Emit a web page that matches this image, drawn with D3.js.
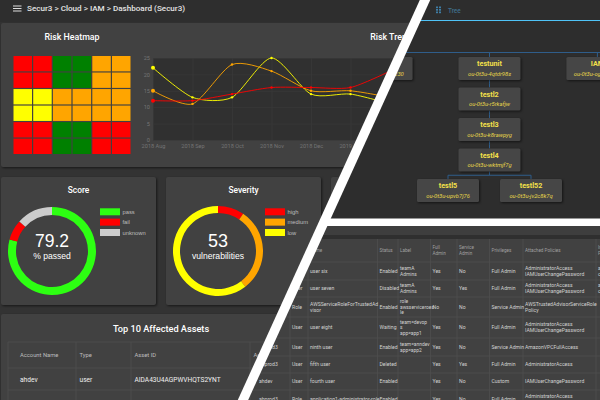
<!DOCTYPE html>
<html>
<head>
<meta charset="utf-8">
<script src="https://cdn.jsdelivr.net/npm/d3@7"></script>
<style>
  html, body { margin: 0; padding: 0; background: #333; overflow: hidden; }
  svg { display: block; font-family: Roboto, sans-serif; }
  .card-shadow { filter: drop-shadow(1px 1px 1px rgba(0, 0, 0, .55)); }
</style>
</head>
<body>
<script>
// heatmap
const heatRows = [0, 1, 2, 3, 4, 5];
const heatCols = [0, 1, 2, 3, 4, 5];
const heatLevels = [
  ['high', 'high', 'ok', 'ok', 'medium', 'medium'],
  ['high', 'high', 'ok', 'ok', 'medium', 'medium'],
  ['low', 'low', 'medium', 'medium', 'medium', 'medium'],
  ['low', 'low', 'medium', 'medium', 'medium', 'medium'],
  ['high', 'high', 'ok', 'ok', 'high', 'high'],
  ['high', 'high', 'ok', 'ok', 'high', 'high']
];

// trend
const trendMonths = ['2018 Aug', '2018 Sep', '2018 Oct', '2018 Nov', '2018 Dec', '2019 Jan', '2019 Feb'];
const trendLow = [22, 13, 13, 25, 14, 14, 11];
const trendMedium = [15, 11, 23, 21, 15, 15, 13];
const trendHigh = [12, 12, 14, 16, 16, 16, 21];
const trendTicks = [0, 5, 10, 15, 20, 25];

// donuts
const scoreLabels = ['pass', 'fail', 'unknown'];
const scoreValues = [79.2, 7.5, 13.3];
const severityLabels = ['high', 'medium', 'low'];
const severityValues = [5, 16, 32];

// top 10 assets
const assetColumns = ['Account Name', 'Type', 'Asset ID', 'Account'];
const assetRows = [
  ['ahdev', 'user', 'AIDA43U4AGPWVHQTS2YNT'],
  ['ahdev', 'user', 'AIDA43U4AGPWVHQTS2YNT']
];

// organisation tree
const ouNames = ['root', 'testou', 'testunit', 'IAM', 'testl2', 'testl3', 'testl4', 'testl5', 'testl52'];
const ouParents = [null, 'root', 'root', 'root', 'testunit', 'testl2', 'testl3', 'testl4', 'testl4'];
const ouIds = ['', 'ou-0t3u-x7fgh230', 'ou-0t3u-4qtdr98s', 'ou-0t3u-og7ka2m1', 'ou-0t3u-r5rkafjw', 'ou-0t3u-k8rawpyg', 'ou-0t3u-wktmjf7g', 'ou-0t3u-upvb7j76', 'ou-0t3u-jv2c8k7q'];

// identities table
const identityColumns = ['Account', 'Type', 'Name', 'Status', 'Label', 'Full\nAdmin', 'Service\nAdmin', 'Privileges', 'Attached Policies', 'Inline\nPolicies'];
const identityRows = [
  ['ahprod3', 'User', 'user six', 'Enabled', 'teamA\nAdmins', 'Yes', 'No', 'Full Admin', 'AdministratorAccess\nIAMUserChangePassword', 'admin\ncustom'],
  ['ahprod3', 'User', 'user seven', 'Disabled', 'teamA\nAdmins', 'Yes', 'Yes', 'Full Admin', 'AdministratorAccess\nIAMUserChangePassword', 'admin\ncustom'],
  ['ahprod3', 'Role', 'AWSServiceRoleForTrustedAd\nvisor', 'Enabled', 'role\nawsserviceroes\nle', 'No', 'No', 'Service Admin', 'AWSTrustedAdvisorServiceRole\nPolicy', ''],
  ['ahprod3', 'User', 'user eight', 'Waiting', 'team=devop\ns\napp=app1', 'Yes', 'No', 'Full Admin', 'AdministratorAccess\nIAMUserChangePassword', ''],
  ['ahprod3', 'User', 'ninth user', 'Enabled', 'team=anndev\napp=app2', 'Yes', 'No', 'Service Admin', 'AmazonVPCFullAccess', ''],
  ['ahprod3', 'User', 'fifth user', 'Deleted', '', 'Yes', 'Yes', 'Full Admin', 'AdministratorAccess', ''],
  ['ahdev', 'User', 'fourth user', 'Enabled', '', 'Yes', 'No', 'Custom', 'IAMUserChangePassword', ''],
  ['ahprod3', 'Role', 'application1-administrator-role', 'Enabled', '', 'Yes', 'No', 'Full Admin', 'AdministratorAccess\nIAMUserChangePassword', '']
];

const width = 600, height = 400;
const seam = y => 425 - 0.455 * y;
const colors = { high: '#ff0000', medium: '#ffa500', low: '#ffff00', ok: '#008000', pass: '#2dff12', fail: '#ff0000', unknown: '#cccccc' };
const sansFont = '"Liberation Sans", sans-serif';

const svg = d3.select('body').append('svg').attr('width', width).attr('height', height);
const defs = svg.append('defs');

function clip(id, points) {
  defs.append('clipPath').attr('id', id).append('polygon').attr('points', points.join(' '));
  return svg.append('g').attr('clip-path', `url(#${id})`);
}

const left = clip('left-clip', [[0, 0], [seam(0), 0], [seam(400), 400], [0, 400]]);
const topRight = clip('top-clip', [[seam(0), 0], [600, 0], [600, 222], [seam(222), 222]]);
const bottomRight = clip('bottom-clip', [[seam(222), 222], [600, 222], [600, 400], [seam(400), 400]]);

function card(g, x, y, w, h) {
  g.append('rect').attr('class', 'card-shadow')
    .attr('x', x).attr('y', y).attr('width', w).attr('height', h).attr('rx', 2)
    .attr('fill', '#414141');
}

function label(g, x, y, str, size, fill, weight, anchor) {
  return g.append('text').attr('x', x).attr('y', y).text(str)
    .attr('font-size', size).attr('fill', fill)
    .attr('font-weight', weight || 400).attr('text-anchor', anchor || 'start');
}

/* ---- left panel ---- */
left.append('rect').attr('width', width).attr('height', height).attr('fill', '#333');
left.append('rect').attr('width', width).attr('height', 22).attr('fill', '#2e2e2e');
[5.5, 8, 10.5].forEach(y => left.append('rect').attr('x', 13).attr('y', y).attr('width', 8.5).attr('height', 1).attr('fill', '#ddd'));
label(left, 27, 10.5, 'Secur3 > Cloud > IAM > Dashboard (Secur3)', 8.1, '#e4e4e4', 500);

card(left, 1, 23, 500, 144);
label(left, 72, 40, 'Risk Heatmap', 8.8, '#fff', 500, 'middle');
label(left, 391, 40, 'Risk Trend', 8.8, '#fff', 500, 'middle');

const heatX = d3.scaleBand().domain(heatCols).range([13.5, 130.5]).paddingInner(0.06);
const heatY = d3.scaleBand().domain(heatRows).range([56, 154]).paddingInner(0.07);
heatRows.forEach(r => {
  left.selectAll(null).data(heatCols).enter().append('rect')
    .attr('x', c => heatX(c)).attr('y', heatY(r))
    .attr('width', heatX.bandwidth()).attr('height', heatY.bandwidth())
    .attr('fill', c => colors[heatLevels[r][c]]);
});

const trendX = d3.scalePoint().domain(trendMonths).range([153, 390]);
const trendY = d3.scaleLinear().domain([0, 25]).range([140, 58]);
left.append('rect').attr('x', 153).attr('y', 58).attr('width', 300).attr('height', 82).attr('fill', '#303030');

const xAxis = left.append('g').attr('transform', 'translate(0,140)')
  .call(d3.axisBottom(trendX).tickSize(-82).tickPadding(4));
const yAxis = left.append('g').attr('transform', 'translate(153,0)')
  .call(d3.axisLeft(trendY).tickValues(trendTicks).tickSize(-300).tickPadding(3));
[xAxis, yAxis].forEach(a => {
  a.select('.domain').remove();
  a.selectAll('line').attr('stroke', '#3a3a3a').attr('stroke-width', 0.7);
  a.selectAll('text').attr('fill', '#747474').attr('font-size', 5.6).attr('font-family', 'Roboto, sans-serif');
});

const trendLine = d3.line()
  .x((d, i) => trendX(trendMonths[i]))
  .y(d => trendY(d))
  .curve(d3.curveCardinal.tension(0.25));

[[trendLow, colors.low], [trendMedium, colors.medium], [trendHigh, colors.high]].forEach(([values, color]) => {
  left.append('path').attr('d', trendLine(values))
    .attr('fill', 'none').attr('stroke', color).attr('stroke-width', 0.9);
  left.selectAll(null).data(values).enter().append('circle')
    .attr('cx', (d, i) => trendX(trendMonths[i])).attr('cy', d => trendY(d))
    .attr('r', (d, i) => i === 0 ? 2 : 1.2).attr('fill', color);
});

function donut(cx, cardX, title, labels, values, bigText, bigSize, smallText, outer, inner) {
  card(left, cardX, 177, 155, 128);
  label(left, cardX + 77.5, 193, title, 8.4, '#fff', 500, 'middle');
  const pie = d3.pie().sort(null)(values);
  const arc = d3.arc().innerRadius(inner).outerRadius(outer);
  left.append('g').attr('transform', `translate(${cx},251)`)
    .selectAll('path').data(pie).enter().append('path')
    .attr('d', arc).attr('fill', (d, i) => colors[labels[i]]);
  label(left, cx, 247, bigText, bigSize, '#fff', 400, 'middle').attr('font-family', sansFont);
  label(left, cx, 258.8, smallText, 8.6, '#fff', 400, 'middle').attr('font-family', sansFont);
  const legendY = d3.scalePoint().domain(labels).range([208.3, 229]);
  labels.forEach(l => {
    left.append('rect').attr('x', cardX + 99).attr('y', legendY(l))
      .attr('width', 20).attr('height', 7).attr('fill', colors[l]);
    label(left, cardX + 121.5, legendY(l) + 5.5, l, 5.8, '#bdbdbd').attr('font-family', sansFont);
  });
}
donut(52, 1, 'Score', scoreLabels, scoreValues, '79.2', 17.5, '% passed', 44, 36);
donut(218, 166, 'Severity', severityLabels, severityValues, '53', 18, 'vulnerabilities', 45, 38);
card(left, 331, 177, 155, 128);

card(left, 1, 314, 500, 90);
label(left, 161, 332, 'Top 10 Affected Assets', 9.2, '#fff', 500, 'middle');
const assetEdges = [8, 76, 131, 250];
const assetRowTops = [342, 368, 390];
assetEdges.forEach(x => left.append('line').attr('x1', x).attr('x2', x).attr('y1', 342).attr('y2', 400).attr('stroke', '#505050').attr('stroke-width', 0.7));
assetRowTops.forEach(y => left.append('line').attr('x1', 8).attr('x2', 300).attr('y1', y).attr('y2', y).attr('stroke', '#505050').attr('stroke-width', 0.7));
assetColumns.forEach((c, i) => label(left, assetEdges[i] + (i === 0 ? 12 : 3.5), 357, c, 5.8, '#bdbdbd'));
assetRows.forEach((row, r) => row.forEach((v, i) => {
  label(left, assetEdges[i] + (i === 0 ? 12 : 3.5), 382 + r * 24, v, 6.6, '#f0f0f0');
}));

/* ---- tree panel ---- */
topRight.append('rect').attr('width', width).attr('height', 222).attr('fill', '#2d2d2d');
topRight.append('line').attr('x1', 380).attr('x2', 600).attr('y1', 20.5).attr('y2', 20.5).attr('stroke', '#4fc3f7').attr('stroke-width', 1);
d3.range(6).forEach(i => topRight.append('rect')
  .attr('x', 436 + (i % 2) * 3).attr('y', 6.5 + Math.floor(i / 2) * 2.5)
  .attr('width', 2).attr('height', 1.7).attr('fill', '#3f7ea6'));
label(topRight, 448, 12.5, 'Tree', 6.4, '#3f6f8c', 500);

const ouTable = ouNames.map((name, i) => ({ name, parent: ouParents[i], ouId: ouIds[i] }));
const root = d3.stratify().id(d => d.name).parentId(d => d.parent)(ouTable);
d3.tree().nodeSize([83, 1]).separation(a => a.depth === 1 ? 1.3 : 1)(root);
const testunit = root.find(d => d.data.name === 'testunit');
const treeX = d3.scaleLinear().domain([testunit.x, testunit.x + 83]).range([489.5, 572.5]);
const treeY = d3.scaleLinear().domain([1, 5]).range([68.5, 190.5]);
const nodeW = 62, nodeH = 23;
const linkColor = '#2f5d8a';

function treeLine(x1, y1, x2, y2) {
  topRight.append('line').attr('x1', x1).attr('x2', x2).attr('y1', y1).attr('y2', y2)
    .attr('stroke', linkColor).attr('stroke-width', 1);
}
treeLine(380, 52.5, 600, 52.5);
root.descendants().filter(d => d.depth > 0).forEach(d => {
  const top = treeY(d.depth) - nodeH / 2;
  if (d.depth === 1) {
    treeLine(treeX(d.x), 52.5, treeX(d.x), top);
  } else {
    const bottom = treeY(d.parent.depth) + nodeH / 2;
    const mid = (bottom + top) / 2;
    treeLine(treeX(d.parent.x), bottom, treeX(d.parent.x), mid);
    treeLine(treeX(d.parent.x), mid, treeX(d.x), mid);
    treeLine(treeX(d.x), mid, treeX(d.x), top);
  }
});
const ouNodes = topRight.selectAll('g.ou').data(root.descendants().filter(d => d.depth > 0)).enter()
  .append('g').attr('class', 'ou')
  .attr('transform', d => `translate(${treeX(d.x)},${treeY(d.depth)})`);
ouNodes.append('rect').attr('class', 'card-shadow')
  .attr('x', -nodeW / 2).attr('y', -nodeH / 2).attr('width', nodeW).attr('height', nodeH).attr('rx', 1.5)
  .attr('fill', '#464646');
ouNodes.append('text').attr('y', -2.5).attr('text-anchor', 'middle')
  .attr('font-size', 7.2).attr('font-weight', 700).attr('fill', '#f3e04a').text(d => d.data.name);
ouNodes.append('text').attr('y', 7).attr('text-anchor', 'middle')
  .attr('font-size', 5.8).attr('font-style', 'italic').attr('fill', '#e6d64a').text(d => d.data.ouId);

/* ---- table panel ---- */
bottomRight.append('rect').attr('y', 222).attr('width', width).attr('height', 178).attr('fill', '#2f2f2f');
bottomRight.append('rect').attr('y', 226).attr('width', width).attr('height', 9).attr('fill', '#3e3e3e');
bottomRight.append('rect').attr('y', 239).attr('width', width).attr('height', 161).attr('fill', '#414141');

const identityEdges = [250, 290, 308, 377.5, 398, 430.5, 457, 489.5, 523, 596, 640];
const identityLines = [239, 262, 280, 297, 317, 338, 356, 373, 390, 408];
identityEdges.forEach(x => bottomRight.append('line').attr('x1', x).attr('x2', x).attr('y1', 239).attr('y2', 400).attr('stroke', '#505050').attr('stroke-width', 0.7));
identityLines.slice(1).forEach(y => bottomRight.append('line').attr('x1', 230).attr('x2', 600).attr('y1', y).attr('y2', y).attr('stroke', '#505050').attr('stroke-width', 0.7));

function cell(x, yMid, str, size, fill, lineGap) {
  const lines = str.split('\n');
  lines.forEach((l, i) => {
    label(bottomRight, x, yMid + (i - (lines.length - 1) / 2) * lineGap + size * 0.35, l, size, fill);
  });
}
const colText = (i) => identityEdges[i] + (i === 0 ? 9 : 2);
identityColumns.forEach((c, i) => cell(colText(i), 250.5, c, 4.6, '#a0a0a0', 5.4));
identityRows.forEach((row, r) => {
  const mid = (identityLines[r + 1] + identityLines[r + 2]) / 2;
  row.forEach((v, i) => cell(colText(i), mid, v, i === 4 ? 4.9 : 5.1, '#d2d2d2', 5.6));
});

/* ---- white seams ---- */
svg.append('rect').attr('x', seam(222)).attr('y', 218.5).attr('width', 600).attr('height', 7.5).attr('fill', '#fff');
svg.append('polygon').attr('fill', '#fff')
  .attr('points', [[seam(0) - 5.2, 0], [seam(0) + 5.2, 0], [seam(400) + 5.2, 400], [seam(400) - 5.2, 400]].join(' '));
</script>
</body>
</html>
